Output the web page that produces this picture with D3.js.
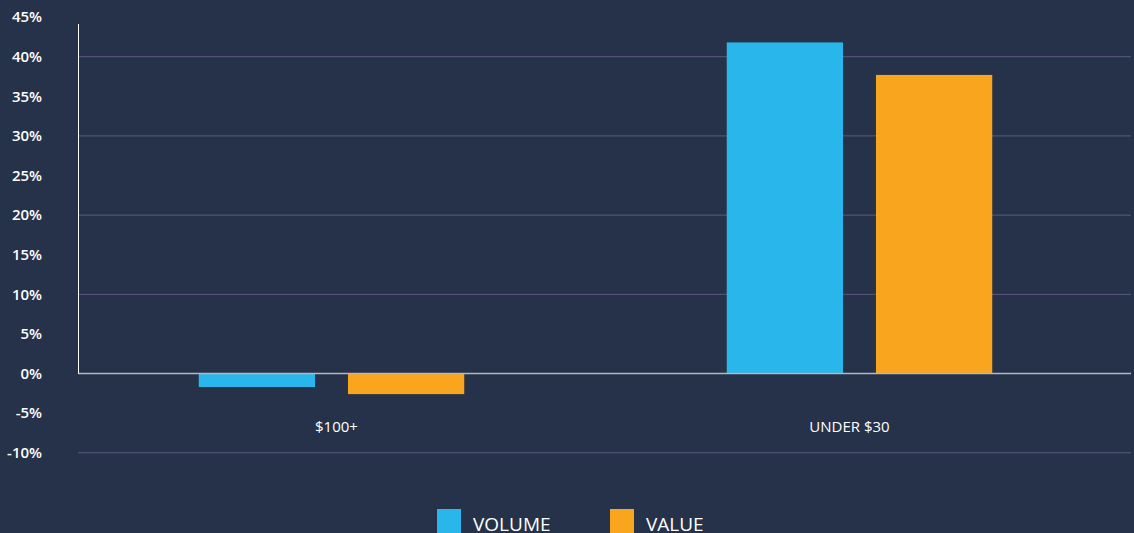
<!DOCTYPE html>
<html><head><meta charset="utf-8">
<script src="https://cdn.jsdelivr.net/npm/d3@7"></script>
<style>
html,body{margin:0;padding:0;background:#26324a;}
svg{display:block;font-family:"Open Sans","Noto Sans",sans-serif;}
</style></head>
<body><svg id="c" width="1134" height="533"></svg>
<script>
const categories = ["$100+", "UNDER $30"];
const seriesNames = ["VOLUME", "VALUE"];
const volumeValues = [-1.7, 41.8];
const valueValues = [-2.6, 37.7];
const tickValues = [-10, -5, 0, 5, 10, 15, 20, 25, 30, 35, 40, 45];
const gridValues = [-10, 10, 20, 30, 40];
const colors = ["#29b7eb", "#f9a61e"];
const FONT = '"Open Sans","Noto Sans",sans-serif';

const svg = d3.select("#c");
svg.append("rect").attr("width",1134).attr("height",533).attr("fill","#26324a");

const y = d3.scaleLinear().domain([-10, 45]).range([452.75, 17.1]);
const x = d3.scaleBand().domain(categories).range([67.5, 1123.5]).paddingInner(0).paddingOuter(0);
const xs = d3.scaleBand().domain(seriesNames).range([0, x.bandwidth()]).paddingInner(33/149.5).paddingOuter(131.5/149.5);

// gridlines
svg.append("g").selectAll("line").data(gridValues).join("line")
  .attr("x1",78).attr("x2",1131).attr("y1",d=>y(d)).attr("y2",d=>y(d))
  .attr("stroke","#5c5a82").attr("stroke-width",1);

// y axis labels
const yAxis = d3.axisLeft(y).tickValues(tickValues).tickFormat(d=>d+"%").tickSize(0).tickPadding(0);
const gy = svg.append("g").attr("transform","translate(42,0)").call(yAxis)
  .attr("font-family", FONT);
gy.select(".domain").remove();
gy.selectAll("text").attr("fill","#ffffff").attr("font-size",15).attr("font-weight",600);

// bars
const data = categories.map((c,i)=>({c, vals:[volumeValues[i], valueValues[i]]}));
const gb = svg.append("g");
data.forEach(d=>{
  d.vals.forEach((v,j)=>{
    gb.append("rect")
      .attr("x", x(d.c)+xs(seriesNames[j]))
      .attr("width", xs.bandwidth())
      .attr("y", y(Math.max(0,v)))
      .attr("height", Math.abs(y(v)-y(0)))
      .attr("fill", colors[j]);
  });
});

// zero line
svg.append("line").attr("x1",78).attr("x2",1131).attr("y1",y(0)).attr("y2",y(0))
  .attr("stroke","#b4b8c4").attr("stroke-width",1.5);
// y axis line
svg.append("line").attr("x1",78.5).attr("x2",78.5).attr("y1",24).attr("y2",y(0))
  .attr("stroke","#ffffff").attr("stroke-width",1);

// category labels
svg.append("g").selectAll("text").data(categories).join("text")
  .attr("x",(d,i)=> x(d)+x.bandwidth()/2 + (i===0?5:-10))
  .attr("y",432).attr("text-anchor","middle")
  .attr("fill","#ffffff").attr("font-size",15).attr("font-weight",500).text(d=>d);

// legend
const lg = svg.append("g");
const legX = [437, 610];
seriesNames.forEach((s,i)=>{
  lg.append("rect").attr("x",legX[i]).attr("y",509).attr("width",24).attr("height",24).attr("fill",colors[i]);
  lg.append("text").attr("x",legX[i]+36).attr("y",531).attr("fill","#ffffff")
    .attr("font-size",19).attr("font-weight",500).text(s);
});
</script></body></html>
